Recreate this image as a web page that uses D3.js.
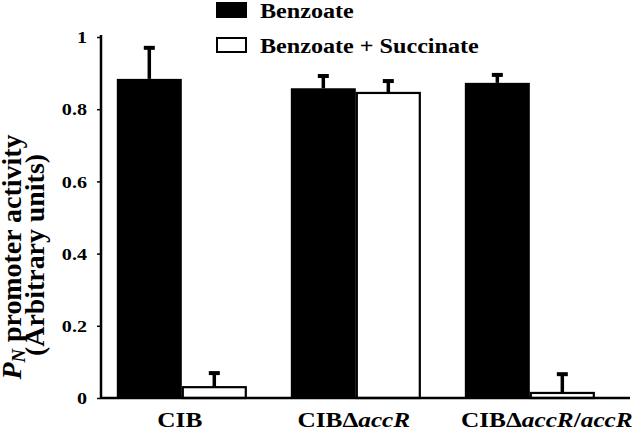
<!DOCTYPE html>
<html><head><meta charset="utf-8">
<script src="https://cdn.jsdelivr.net/npm/d3@7"></script>
<style>
body{margin:0;background:#fff;}
text{font-family:"Liberation Serif","Times New Roman",serif;font-weight:bold;fill:#000;}
</style></head>
<body><svg id="c" width="633" height="431"></svg>
<script>
const categories = ["CIB", "CIBΔaccR", "CIBΔaccR/accR"];
const series = ["Benzoate", "Benzoate + Succinate"];
const benzoate = [0.884, 0.858, 0.873];
const benzoateErr = [0.086, 0.034, 0.022];
const succinate = [0.030, 0.845, 0.014];
const succinateErr = [0.039, 0.033, 0.052];
const yTicks = [0, 0.2, 0.4, 0.6, 0.8, 1];

const SX = 1.15; // horizontal stretch of text in the original figure
const FONT = '"Liberation Serif","Times New Roman",serif';

const svg = d3.select("#c");
const y = d3.scaleLinear().domain([0, 1]).range([398, 37]);
const x0 = d3.scaleBand().domain(categories).range([101, 630])
  .paddingInner(0.253).paddingOuter(0.1465).align(0.31);
const x1 = d3.scaleBand().domain(series).range([0, x0.bandwidth()]);
const fills = d3.scaleOrdinal().domain(series).range(["#000", "#fff"]);

const rows = [];
categories.forEach((c, i) => {
  rows.push({c, s: series[0], v: benzoate[i], e: benzoateErr[i]});
  rows.push({c, s: series[1], v: succinate[i], e: succinateErr[i]});
});

// bars
svg.append("g").selectAll("rect").data(rows).join("rect")
  .attr("x", d => x0(d.c) + x1(d.s) + (d.s === series[1] ? 1 : 0))
  .attr("y", d => y(d.v))
  .attr("width", d => x1.bandwidth() - (d.s === series[1] ? 2 : 0))
  .attr("height", d => y(0) - y(d.v))
  .attr("fill", d => fills(d.s))
  .attr("stroke", "#000")
  .attr("stroke-width", d => d.s === series[1] ? 2.2 : 0);

// error bars
const cx = d => x0(d.c) + x1(d.s) + x1.bandwidth() / 2;
const eg = svg.append("g").selectAll("g").data(rows).join("g");
eg.append("line")
  .attr("x1", cx).attr("x2", cx)
  .attr("y1", d => y(d.v))
  .attr("y2", d => y(d.v + d.e))
  .attr("stroke", "#000").attr("stroke-width", 3.5);
eg.append("line")
  .attr("x1", d => cx(d) - 5.5)
  .attr("x2", d => cx(d) + 5.5)
  .attr("y1", d => y(d.v + d.e))
  .attr("y2", d => y(d.v + d.e))
  .attr("stroke", "#000").attr("stroke-width", 4);

// y axis
const ya = svg.append("g").attr("transform", "translate(101,0)")
  .call(d3.axisLeft(y).tickValues(yTicks).tickSize(4).tickPadding(9)
    .tickFormat(d => d === 0 ? "0" : d === 1 ? "1" : d3.format(".1f")(d)));
ya.select(".domain").attr("stroke", "#000").attr("stroke-width", 2.5)
  .attr("d", "M0,35V398");
ya.selectAll(".tick line").attr("stroke", "#000").attr("stroke-width", 1.5);
ya.selectAll(".tick text")
  .style("font-size", "17.5px").style("font-family", FONT).style("font-weight", "bold")
  .attr("x", -14 / SX)
  .attr("transform", `scale(${SX},1)`);

// x axis
const xa = svg.append("g").attr("transform", "translate(0,398)")
  .call(d3.axisBottom(x0).tickSize(0).tickPadding(13));
xa.select(".domain").attr("stroke", "#000").attr("stroke-width", 2.5)
  .attr("d", "M101,0H630");
xa.selectAll(".tick text").text(null)
  .style("font-size", "22px").style("font-family", FONT).style("font-weight", "bold")
  .attr("dy", "0.71em")
  .attr("x", (d, i) => (i === categories.length - 1 ? 17 : -2) / SX)
  .attr("transform", `scale(${SX},1)`)
  .each(function(d) {
    const t = d3.select(this);
    const parts = d.split(/(accR)/).filter(p => p.length);
    parts.forEach(p => {
      t.append("tspan").text(p).style("font-style", p === "accR" ? "italic" : "normal");
    });
  });

// y axis title
const yt = svg.append("g").attr("transform", `translate(1,257) scale(${SX},1) rotate(-90)`);
const l1 = yt.append("text").attr("x", 0).attr("y", 19.5 / SX).attr("text-anchor", "middle")
  .style("font-size", "24px").attr("textLength", 245).attr("lengthAdjust", "spacingAndGlyphs");
l1.append("tspan").text("P").style("font-style", "italic");
l1.append("tspan").text("N").style("font-style", "italic").style("font-size", "16px").attr("dy", 4);
l1.append("tspan").text(" promoter activity").attr("dy", -4);
yt.append("text").attr("x", 2).attr("y", 43 / SX).attr("text-anchor", "middle")
  .style("font-size", "24px").attr("textLength", 202).attr("lengthAdjust", "spacingAndGlyphs")
  .text("(Arbitrary units)");

// legend
const lg = svg.append("g").selectAll("g").data(series).join("g")
  .attr("transform", (d, i) => `translate(216,${2 + i * 35})`);
lg.append("rect").attr("x", 1).attr("y", 1).attr("width", 29).attr("height", 14)
  .attr("fill", d => fills(d)).attr("stroke", "#000").attr("stroke-width", 2);
lg.append("g").attr("transform", `translate(44,15.5) scale(${SX},1)`)
  .append("text").style("font-size", "21px").text(d => d);
</script></body></html>
